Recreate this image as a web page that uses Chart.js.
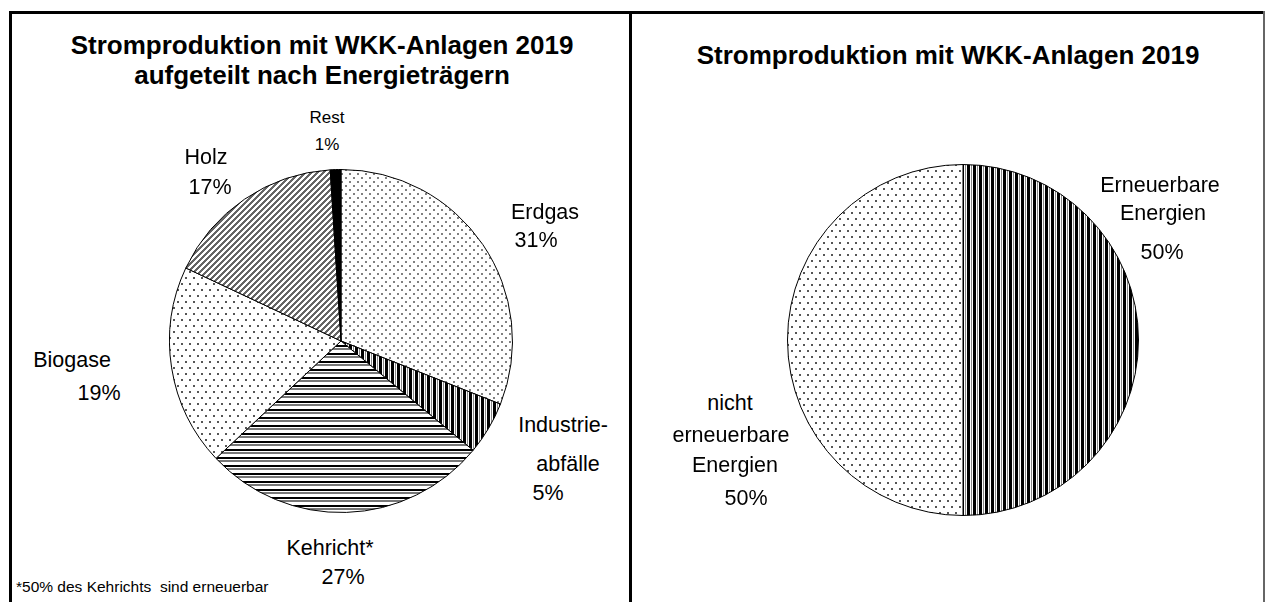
<!DOCTYPE html>
<html>
<head>
<meta charset="utf-8">
<script src="https://cdn.jsdelivr.net/npm/chart.js@4.4.1/dist/chart.umd.min.js"></script>
<style>
body{margin:0;background:#fff;font-family:"Liberation Sans",Arial,sans-serif;}
#wrap{position:relative;width:1265px;height:602px;overflow:hidden;}
.line{position:absolute;background:#000;}
.t{position:absolute;transform:translate(-50%,-50%);white-space:pre;color:#000;font-size:21.5px;}
.b{font-weight:bold;font-size:26px;}
canvas{position:absolute;}
</style>
</head>
<body>
<div id="wrap">
  <div class="line" style="left:9px;top:11px;width:1256px;height:3px"></div>
  <div class="line" style="left:9px;top:11px;width:3px;height:591px"></div>
  <div class="line" style="left:629px;top:11px;width:3px;height:591px"></div>
  <div class="line" style="left:1263px;top:11px;width:2px;height:591px;background:#666"></div>
  <canvas id="left" width="344" height="344" style="left:169px;top:169px"></canvas>
  <canvas id="right" width="352" height="352" style="left:787px;top:164px"></canvas>
</div>
<script>
// Daten
var TITLE_LEFT = ['Stromproduktion mit WKK-Anlagen 2019', 'aufgeteilt nach Energieträgern'];
var TITLE_RIGHT = 'Stromproduktion mit WKK-Anlagen 2019';
var LEFT_LABELS = ['Erdgas', 'Industrieabfälle', 'Kehricht*', 'Biogase', 'Holz', 'Rest'];
var LEFT_VALUES = [31, 5, 27, 19, 17, 1];
var RIGHT_LABELS = ['Erneuerbare Energien', 'nicht erneuerbare Energien'];
var RIGHT_VALUES = [50, 50];
var FOOTNOTE = '*50% des Kehrichts  sind erneuerbar';

var wrap = document.getElementById('wrap');
function txt(s, x, y, cls, extra){
    var d = document.createElement('div');
    d.className = 't' + (cls ? ' ' + cls : '');
    d.textContent = s;
    d.style.left = x + 'px';
    d.style.top = y + 'px';
    if(extra) d.style.cssText += extra;
    wrap.appendChild(d);
}

// Muster
function makePattern(w, h, draw){
    var c = document.createElement('canvas');
    c.width = w; c.height = h;
    var g = c.getContext('2d');
    g.fillStyle = '#fff';
    g.fillRect(0, 0, w, h);
    draw(g);
    return g.createPattern(c, 'repeat');
}
var denseDots = makePattern(8, 8, function(g){
    g.fillStyle = '#808080';
    g.fillRect(0, 0, 2, 2);
    g.fillRect(4, 4, 2, 2);
});
var sparseDots = makePattern(8, 12, function(g){
    g.fillStyle = '#555';
    g.fillRect(0, 0, 2, 2);
    g.fillRect(4, 6, 2, 2);
});
var vStripes = makePattern(6, 1, function(g){
    g.fillStyle = '#000';
    g.fillRect(0, 0, 3, 1);
    g.fillStyle = '#888';
    g.fillRect(4, 0, 1, 1);
});
var hStripes = makePattern(1, 8, function(g){
    g.fillStyle = '#000';
    g.fillRect(0, 0, 1, 2);
    g.fillStyle = '#777';
    g.fillRect(0, 3, 1, 2);
});
var diag = makePattern(6, 6, function(g){
    g.fillStyle = '#666';
    for(var x = 0; x < 6; x++){
        for(var y = 0; y < 6; y++){
            if((x + y) % 6 < 3) g.fillRect(x, y, 1, 1);
        }
    }
});

function pieConfig(labels, values, fills){
    return {
        type: 'pie',
        data: {
            labels: labels,
            datasets: [{data: values, backgroundColor: fills, borderColor: '#000', borderWidth: 1}]
        },
        options: {
            responsive: false,
            animation: false,
            layout: {padding: 0},
            plugins: {legend: {display: false}, tooltip: {enabled: false}}
        }
    };
}

new Chart(document.getElementById('left').getContext('2d'),
    pieConfig(LEFT_LABELS, LEFT_VALUES, [denseDots, vStripes, hStripes, sparseDots, diag, '#000']));
new Chart(document.getElementById('right').getContext('2d'),
    pieConfig(RIGHT_LABELS, RIGHT_VALUES, [vStripes, sparseDots]));

// Titel
txt(TITLE_LEFT[0], 322, 45, 'b');
txt(TITLE_LEFT[1], 322, 75, 'b');
txt(TITLE_RIGHT, 948, 55, 'b');

// Beschriftungen
txt('Rest', 327, 118, '', 'font-size:17px');
txt(LEFT_VALUES[5] + '%', 327, 145, '', 'font-size:17px');
txt('Holz', 206, 157);
txt(LEFT_VALUES[4] + '%', 210, 187);
txt('Erdgas', 545, 212);
txt(LEFT_VALUES[0] + '%', 536, 240);
txt('Biogase', 72, 360);
txt(LEFT_VALUES[3] + '%', 99, 393);
txt('Industrie-', 563, 425);
txt('abfälle', 568, 464);
txt(LEFT_VALUES[1] + '%', 548, 493);
txt('Kehricht*', 330, 548);
txt(LEFT_VALUES[2] + '%', 343, 577);
txt('Erneuerbare', 1160, 185);
txt('Energien', 1163, 213);
txt(RIGHT_VALUES[0] + '%', 1162, 252);
txt('nicht', 730, 403);
txt('erneuerbare', 731, 435);
txt('Energien', 735, 465);
txt(RIGHT_VALUES[1] + '%', 746, 498);
txt(FOOTNOTE, 16, 587, '', 'font-size:15.5px;transform:translate(0,-50%)');
</script>
</body>
</html>
